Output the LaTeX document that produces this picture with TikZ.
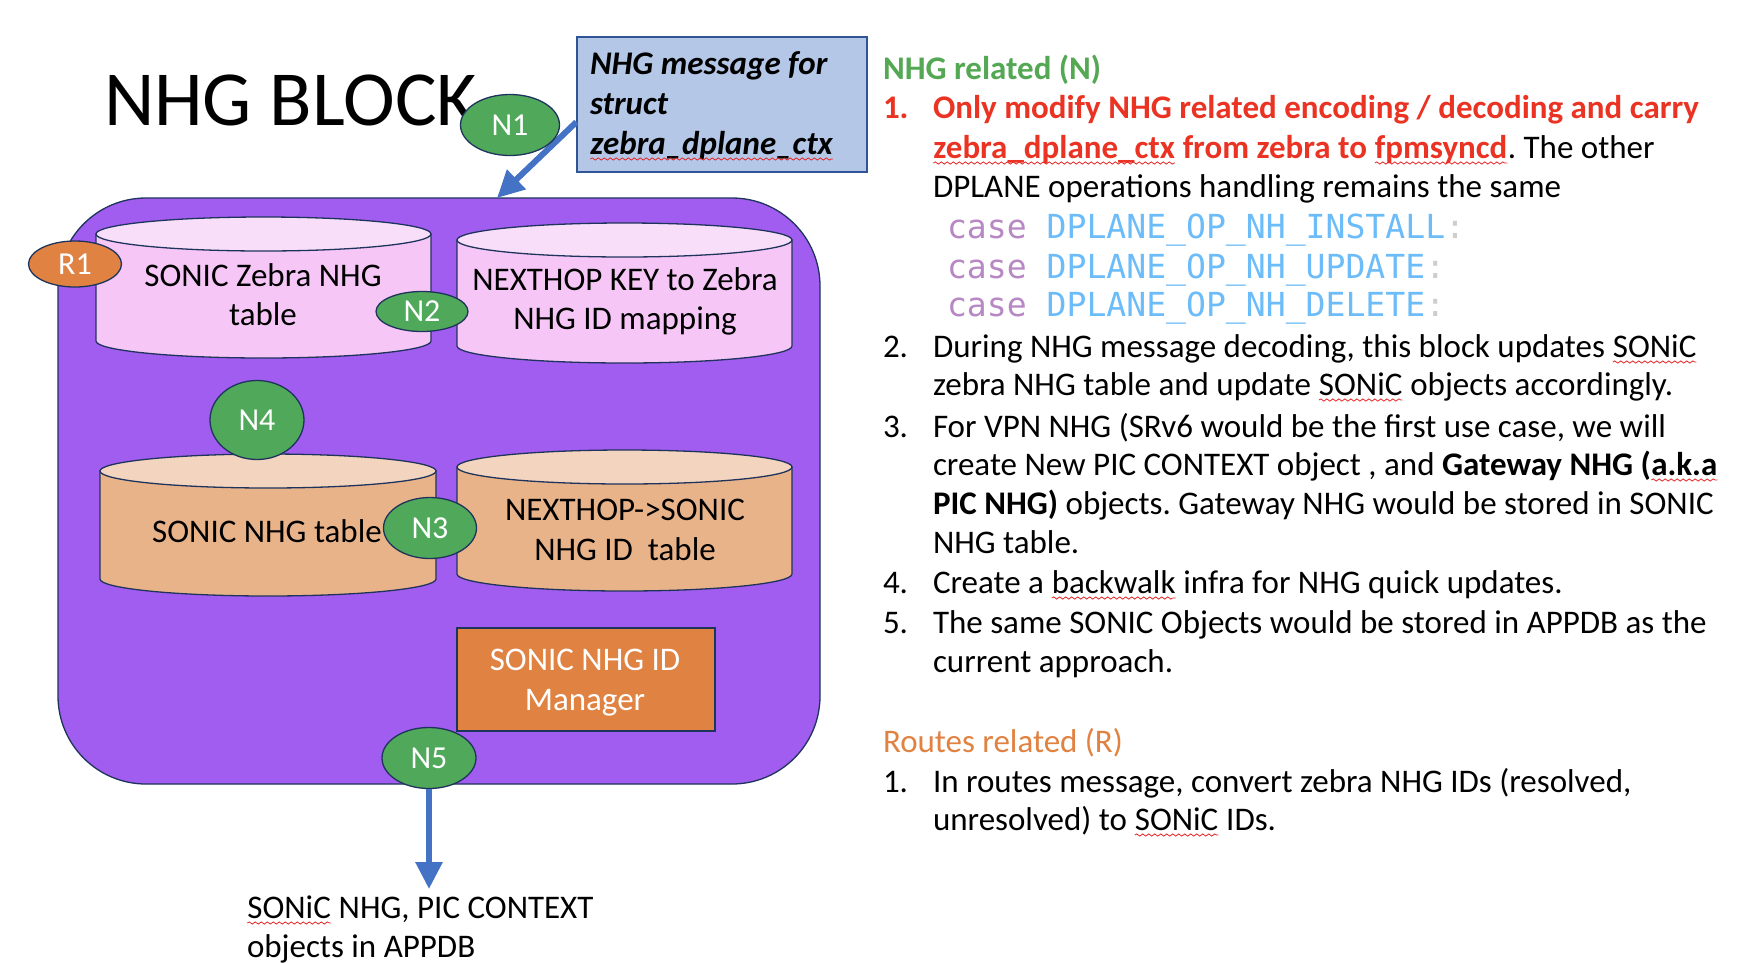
\documentclass[tikz,border=0pt]{standalone}
\usepackage{fontspec}
\setmainfont{Carlito}
\newfontfamily\codefont{DejaVu Sans Mono}
\usetikzlibrary{shapes.geometric,arrows.meta,decorations.pathmorphing}
\frenchspacing
\definecolor{purp}{RGB}{161,92,240}
\definecolor{navy}{RGB}{31,52,92}
\definecolor{pinkbody}{RGB}{246,199,246}
\definecolor{pinktop}{RGB}{249,222,250}
\definecolor{salbody}{RGB}{233,179,138}
\definecolor{saltop}{RGB}{243,212,190}
\definecolor{ngreen}{RGB}{80,168,90}
\definecolor{orng}{RGB}{224,130,65}
\definecolor{boxfill}{RGB}{180,199,231}
\definecolor{boxedge}{RGB}{47,85,151}
\definecolor{arrblue}{RGB}{68,114,196}
\definecolor{nred}{RGB}{234,51,35}
\definecolor{headgreen}{RGB}{84,168,84}
\definecolor{casec}{RGB}{183,136,196}
\definecolor{constc}{RGB}{108,188,250}
\definecolor{colc}{RGB}{205,205,205}
\definecolor{sqcol}{RGB}{230,40,40}
\newcommand\sq[1]{\tikz[baseline=0pt]{\node[rectangle,draw=none,fill=none,anchor=base west,inner sep=0pt,outer sep=0pt](sqw){#1};\draw[sqcol,line width=0.8pt,decorate,decoration={snake,amplitude=1.1pt,segment length=6pt}]([yshift=-5pt]sqw.base west)--([yshift=-5pt]sqw.base east);}}
\newcommand\mycyl[6]{%
  \pgfmathsetmacro\cyCX{(#1+#2)/2}\pgfmathsetmacro\cyRX{(#2-#1)/2}%
  \pgfmathsetmacro\cyYT{#3+17}\pgfmathsetmacro\cyYB{#4-17}%
  \filldraw[fill=#5,draw=navy,line width=1.3pt] (#1,\cyYT) -- (#1,\cyYB) arc[start angle=180,end angle=0,x radius=\cyRX,y radius=17] -- (#2,\cyYT) -- cycle;
  \filldraw[fill=#6,draw=navy,line width=1.3pt] (\cyCX,\cyYT) ellipse [x radius=\cyRX,y radius=17];
}
\tikzset{
  txt/.style={rectangle,inner sep=0pt,outer sep=0pt,font=\fontsize{33}{40}\selectfont},
  rt/.style={txt,anchor=base west,font=\fontsize{33}{40}\selectfont},
  code/.style={txt,anchor=base west,font=\codefont\fontsize{33.1}{40}\selectfont},
  lbl/.style={ellipse,draw=navy,line width=1.3pt,fill=ngreen,text=white,inner sep=0pt,font=\fontsize{32}{38}\selectfont},
  blockbox/.style={rectangle,draw=navy,line width=1.3pt,fill=purp,rounded corners=88pt,inner sep=0pt},
  arr/.style={arrblue,line width=6pt,-{Triangle[length=27pt,width=26pt]}}
}
\begin{document}
\begin{tikzpicture}[x=1pt,y=-1pt]
\fill[white] (0,0) rectangle (1744,962);
\useasboundingbox (0,0) rectangle (1744,962);

% title
\node[txt,anchor=base west,font=\fontsize{78}{90}\selectfont] (title) at (104,125) {NHG BLOCK};

% message box
\node[rectangle,draw=boxedge,fill=boxfill,line width=1.2pt,minimum width=290pt,minimum height=135pt,inner sep=0pt] (msg) at (722,104.5) {};
\node[txt,anchor=base west,font=\fontsize{33}{40}\selectfont\bfseries\itshape] (m1) at (590,74) {NHG message for};
\node[txt,anchor=base west,font=\fontsize{33}{40}\selectfont\bfseries\itshape] (m2) at (590,114) {struct};
\node[txt,anchor=base west,font=\fontsize{33}{40}\selectfont\bfseries\itshape] (m3) at (590,154) {\sq{zebra\_dplane\_ctx}};

% block
\node[blockbox,minimum width=762pt,minimum height=586pt] (blk) at (439,491) {};
\coordinate (a1e) at (497,198);
\draw[arr] ([yshift=-17.5pt]msg.west) -- (a1e);

% cylinders
\mycyl{96}{431}{217}{358}{pinkbody}{pinktop}
\mycyl{457}{792}{223}{363}{pinkbody}{pinktop}
\mycyl{100}{436}{454}{596}{salbody}{saltop}
\mycyl{457}{792}{450}{591}{salbody}{saltop}

\node[txt,anchor=base] (c1a) at (263,286) {SONIC Zebra NHG};
\node[txt,anchor=base] (c1b) at (263,325) {table};
\node[txt,anchor=base] (c2a) at (625,290) {NEXTHOP KEY to Zebra};
\node[txt,anchor=base] (c2b) at (625,329) {NHG ID mapping};
\node[txt,anchor=base] (c3a) at (267,542) {SONIC NHG table};
\node[txt,anchor=base] (c4a) at (625,520) {NEXTHOP->SONIC};
\node[txt,anchor=base] (c4b) at (625,560) {NHG ID\ \ table};

% manager
\node[rectangle,draw=navy,fill=orng,line width=1.3pt,minimum width=258pt,minimum height=103pt,inner sep=0pt] (mgr) at (586,679.5) {};
\node[txt,anchor=base,text=white] (mg1) at (585,670) {SONIC NHG ID};
\node[txt,anchor=base,text=white] (mg2) at (585,710) {Manager};

% labels
\node[lbl,fill=orng,minimum width=93pt,minimum height=46pt] (r1) at (75,264) {R1};
\node[lbl,minimum width=92pt,minimum height=40pt] (n2) at (422,311.5) {N2};
\node[lbl,minimum width=94pt,minimum height=79pt] (n4) at (257,420) {N4};
\node[lbl,minimum width=93pt,minimum height=61pt] (n3) at (430,528) {N3};
\node[lbl,minimum width=94pt,minimum height=61pt] (n5) at (429,758) {N5};
\node[lbl,minimum width=99pt,minimum height=61pt] (n1) at (510,125) {N1};

% output arrow
\coordinate (a5e) at (429,889);
\draw[arr] (n5.south) -- (a5e);
\node[txt,anchor=base west] (o1) at (247,918) {\sq{SONiC} NHG, PIC CONTEXT};
\node[txt,anchor=base west] (o2) at (247,957) {objects in APPDB};

% right column
\node[rt,text=headgreen,font=\fontsize{33}{40}\selectfont\bfseries] (h1) at (883,79) {NHG related (N)};
\node[rt,text=nred,font=\fontsize{33}{40}\selectfont\bfseries] (k1) at (883,118) {1.};
\node[rt,text=nred,font=\fontsize{33}{40}\selectfont\bfseries] (l1) at (933,118) {Only modify NHG related encoding / decoding and carry};
\node[rt] (l2) at (933,158) {\textcolor{nred}{\bfseries\sq{zebra\_dplane\_ctx} from zebra to \sq{fpmsyncd}}. The other};
\node[rt] (l3) at (933,197) {DPLANE operations handling remains the same};
\node[code] (cs1) at (947,238) {\textcolor{casec}{case} \textcolor{constc}{DPLANE\_OP\_NH\_INSTALL}\textcolor{colc}{:}};
\node[code] (cs2) at (947,278) {\textcolor{casec}{case} \textcolor{constc}{DPLANE\_OP\_NH\_UPDATE}\textcolor{colc}{:}};
\node[code] (cs3) at (947,316) {\textcolor{casec}{case} \textcolor{constc}{DPLANE\_OP\_NH\_DELETE}\textcolor{colc}{:}};
\node[rt] (k2) at (883,357) {2.};
\node[rt] (l4) at (933,357) {During NHG message decoding, this block updates \sq{SONiC}};
\node[rt] (l5) at (933,395) {zebra NHG table and update \sq{SONiC} objects accordingly.};
\node[rt] (k3) at (883,437) {3.};
\node[rt] (l6) at (933,437) {For VPN NHG (SRv6 would be the first use case, we will};
\node[rt] (l7) at (933,475) {create New PIC CONTEXT object , and \textbf{Gateway NHG (\sq{a.k.a}}};
\node[rt] (l8) at (933,514) {\textbf{PIC NHG)} objects. Gateway NHG would be stored in SONIC};
\node[rt] (l9) at (933,553) {NHG table.};
\node[rt] (k4) at (883,593) {4.};
\node[rt] (l10) at (933,593) {Create a \sq{backwalk} infra for NHG quick updates.};
\node[rt] (k5) at (883,633) {5.};
\node[rt] (l11) at (933,633) {The same SONIC Objects would be stored in APPDB as the};
\node[rt] (l12) at (933,672) {current approach.};
\node[rt,text=orng] (h2) at (883,752) {Routes related (R)};
\node[rt] (k6) at (883,792) {1.};
\node[rt] (l13) at (933,792) {In routes message, convert zebra NHG IDs (resolved,};
\node[rt] (l14) at (933,830) {unresolved) to \sq{SONiC} IDs.};
\end{tikzpicture}
\end{document}
